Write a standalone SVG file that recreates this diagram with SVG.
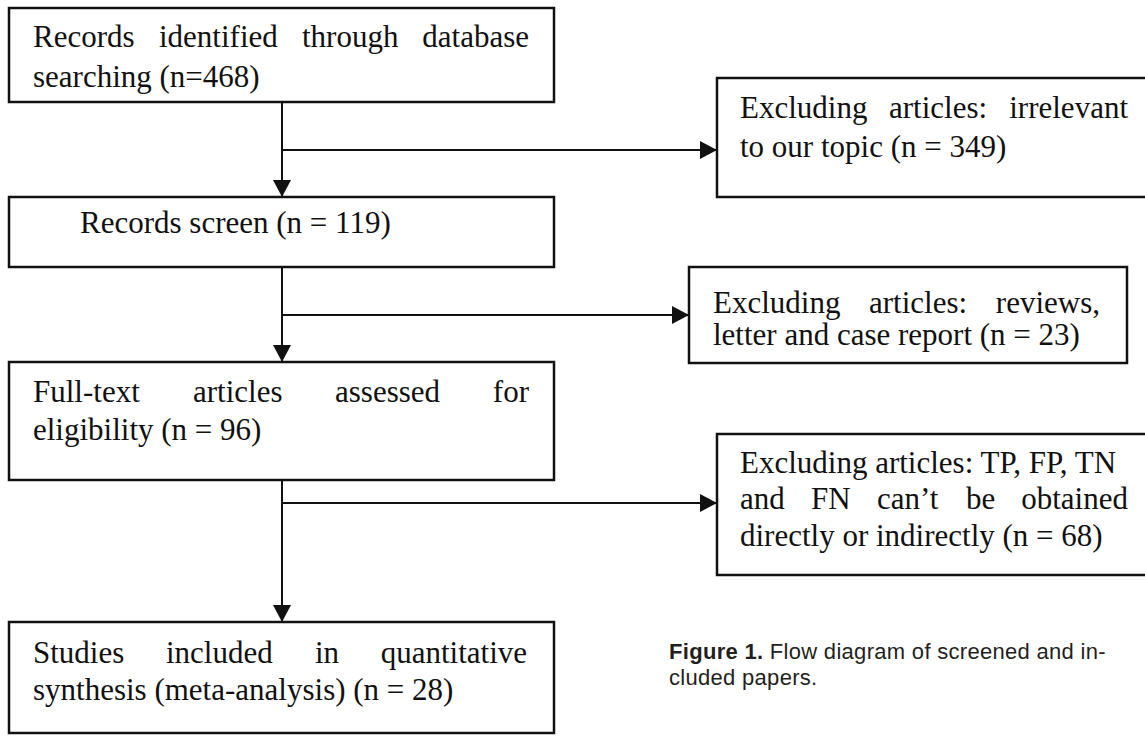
<svg xmlns="http://www.w3.org/2000/svg" width="1145" height="736" viewBox="0 0 1145 736">
<style>
.box{fill:#fff;stroke:#111;stroke-width:2.5}
.t{font-family:"Liberation Serif","Times New Roman",serif;font-size:31px;fill:#111}
.e{text-anchor:end}
.conn{fill:none;stroke:#111;stroke-width:2}
.cap{font-family:"Liberation Sans",Arial,sans-serif;font-size:22px;fill:#231f20;letter-spacing:0.3px}
</style>
<defs>
<marker id="arr" markerUnits="userSpaceOnUse" markerWidth="18" markerHeight="18" refX="17" refY="9" orient="auto">
<path d="M0,0 L17,9 L0,18 Z" fill="#111"/>
</marker>
</defs>
<rect x="0" y="0" width="1145" height="736" fill="#fff"/>
<g id="connectors">
<line class="conn" x1="282" y1="102" x2="282" y2="197" marker-end="url(#arr)"/>
<line class="conn" x1="282" y1="150" x2="717" y2="150" marker-end="url(#arr)"/>
<line class="conn" x1="282" y1="267" x2="282" y2="362" marker-end="url(#arr)"/>
<line class="conn" x1="282" y1="315" x2="689" y2="315" marker-end="url(#arr)"/>
<line class="conn" x1="282" y1="480" x2="282" y2="622" marker-end="url(#arr)"/>
<line class="conn" x1="282" y1="503" x2="717" y2="503" marker-end="url(#arr)"/>
</g>
<g id="n1">
<rect class="box" x="9" y="8" width="545" height="94"/>
<text class="t" y="47"><tspan x="33">Records</tspan><tspan x="159">identified</tspan><tspan x="302">through</tspan></text>
<text class="t e" x="529" y="47">database</text>
<text class="t" x="33" y="87">searching (n=468)</text>
</g>
<g id="n2">
<rect class="box" x="9" y="197" width="545" height="70"/>
<text class="t" x="80" y="233">Records screen (n = 119)</text>
</g>
<g id="n3">
<rect class="box" x="9" y="362" width="545" height="118"/>
<text class="t" y="402"><tspan x="33">Full-text</tspan><tspan x="193">articles</tspan><tspan x="335">assessed</tspan></text>
<text class="t e" x="529" y="402">for</text>
<text class="t" x="33" y="440">eligibility (n = 96)</text>
</g>
<g id="n4">
<rect class="box" x="9" y="622" width="545" height="111"/>
<text class="t" y="663"><tspan x="33">Studies</tspan><tspan x="166">included</tspan><tspan x="315">in</tspan></text>
<text class="t e" x="527" y="663">quantitative</text>
<text class="t" x="33" y="700">synthesis (meta-analysis) (n = 28)</text>
</g>
<g id="r1">
<rect class="box" x="717" y="78" width="440" height="119"/>
<text class="t" y="118"><tspan x="740">Excluding</tspan><tspan x="889">articles:</tspan></text>
<text class="t e" x="1128" y="118">irrelevant</text>
<text class="t" x="740" y="157">to our topic (n = 349)</text>
</g>
<g id="r2">
<rect class="box" x="689" y="267" width="438" height="96"/>
<text class="t" y="313"><tspan x="713">Excluding</tspan><tspan x="869">articles:</tspan></text>
<text class="t e" x="1100" y="313">reviews,</text>
<text class="t" x="713" y="345">letter and case report (n = 23)</text>
</g>
<g id="r3">
<rect class="box" x="717" y="434" width="440" height="141"/>
<text class="t" x="740" y="473">Excluding articles: TP, FP, TN</text>
<text class="t" y="509"><tspan x="740">and</tspan><tspan x="811">FN</tspan><tspan x="877">can’t</tspan><tspan x="966">be</tspan></text>
<text class="t e" x="1128" y="509">obtained</text>
<text class="t" x="740" y="546">directly or indirectly (n = 68)</text>
</g>
<g id="caption">
<text class="cap" x="669" y="659"><tspan font-weight="bold">Figure 1.</tspan> Flow diagram of screened and in-</text>
<text class="cap" x="669" y="685">cluded papers.</text>
</g>
</svg>
